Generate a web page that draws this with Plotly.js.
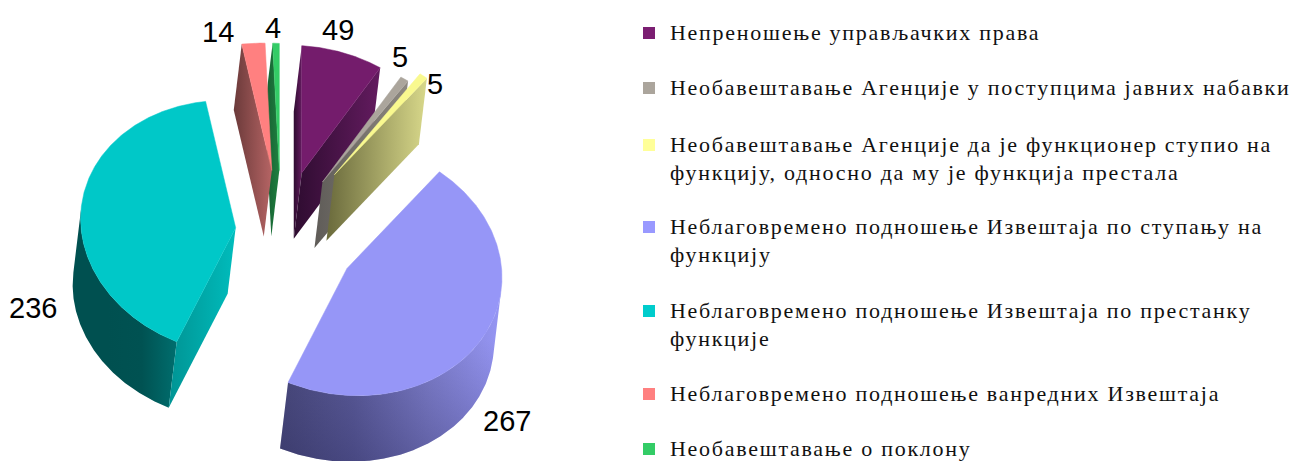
<!DOCTYPE html>
<html><head><meta charset="utf-8">
<script src="https://cdn.plot.ly/plotly-3.0.1.min.js"></script>
<style>
html,body{margin:0;padding:0;background:#fff}
#chart{width:1293px;height:461px}
.textpoint text{letter-spacing:1.73px}
</style></head><body><div id="chart"></div>
<script>
// Data, clockwise from 12 o'clock
const categories = [
  ["Непреношење управљачких права"],
  ["Необавештавање Агенције у поступцима јавних набавки"],
  ["Необавештавање Агенције да је функционер ступио на", "функцију, односно да му је функција престала"],
  ["Неблаговремено подношење Извештаја по ступању на", "функцију"],
  ["Неблаговремено подношење Извештаја по престанку", "функције"],
  ["Неблаговремено подношење ванредних Извештаја"],
  ["Необавештавање о поклону"]
];
const values = [49, 5, 5, 267, 236, 14, 4];

// Styles
const pulls = [0.51, 0.505, 0.6, 0.489, 0.294, 0.5, 0.5];
const topColors = ["#741C6C", "#ABA59C", "#F9F98F", "#9696F7", "#00C8C8", "#FF8080", "#33CC66"];
const swatchColors = ["#7B1E72", "#ABA59C", "#FFFF99", "#9999FF", "#00CCCC", "#FF8080", "#33CC66"];
const arcScales = [
  ["#3a0f3a", "#5f1a5c"], ["#66625c", "#8d8880"], ["#6f6f40", "#d8d888"],
  ["#474778", "#5a5a98", "#7c7cc8", "#9696F4"], ["#005050", "#005050", "#005252", "#006e6e"],
  ["#6b3a3a", "#b06060"], ["#165c30", "#27a050"]
];
const sideScales = [
  ["#2e0c30", "#631b5f"], ["#5f5c58", "#8d8880"], ["#6a6a3c", "#d8d88a"],
  ["#4a4a80", "#9090ea"], ["#009494", "#00bcbc"], ["#6b3a3a", "#b56464"], ["#165c30", "#1f8040"]
];
const labelX = [338, 400, 435, 507, 33, 218, 273];
const labelY = [30, 57, 84, 421, 308, 32, 28];
const legendY = [33, 88, 145, 227, 311, 394, 449];
const legendTextNudge = 1.5;
const legendLineGap = 28, swatchX = 649, legendTextX = 670;
const drawOrder = [6, 5, 0, 1, 2, 4, 3];

// Pie projection
const centerX = 281, centerY = 234, radiusX = 155, radiusY = 127, shear = 0.058;
const depthX = -8, depthY = 66;
const total = values.reduce((a, b) => a + b, 0);
const rad = d => d * Math.PI / 180;
const project = (ax, ay, deg) => {
  const c = Math.cos(rad(deg)), s = Math.sin(rad(deg));
  return [ax + radiusX * c, ay + radiusY * s + shear * radiusX * c];
};
const fillTrace = (pts, stops) => {
  const t = {
    x: pts.map(p => p[0]), y: pts.map(p => p[1]), mode: "lines", fill: "toself",
    line: {width: stops.length === 1 ? 0.5 : 0, color: stops[stops.length - 1]},
    showlegend: false, hoverinfo: "skip"
  };
  if (stops.length === 1) t.fillcolor = stops[0];
  else t.fillgradient = {type: "horizontal", colorscale: stops.map((c, k) => [k / (stops.length - 1), c])};
  return t;
};

let acc = -90;
const slices = values.map((v, i) => {
  const a0 = acc, a1 = acc + v / total * 360;
  acc = a1;
  const mid = project(0, 0, (a0 + a1) / 2);
  return {a0, a1, ax: centerX + pulls[i] * mid[0], ay: centerY + pulls[i] * mid[1]};
});

const traces = [];

drawOrder.forEach(i => {
  const s = slices[i];
  const arc = [];
  const n = Math.max(8, Math.ceil((s.a1 - s.a0) * 3));
  for (let k = 0; k <= n; k++) arc.push(project(s.ax, s.ay, s.a0 + (s.a1 - s.a0) * k / n));
  const low = p => [p[0] + depthX, p[1] + depthY];
  const apex = [s.ax, s.ay], apexLow = low(apex);

  // Curved rim: only the stretch of arc whose outward normal faces the extrusion
  const rim = [];
  for (let k = 0; k < n; k++) {
    const tx = arc[k + 1][0] - arc[k][0], ty = arc[k + 1][1] - arc[k][1];
    if (ty * depthX - tx * depthY > 0) {
      if (!rim.length) rim.push(arc[k]);
      rim.push(arc[k + 1]);
    }
  }
  if (rim.length) {
    const wall = rim.concat(rim.map(low).reverse(), [rim[0]]);
    traces.push(fillTrace(wall, arcScales[i]));
    if (i === 3) {                              // darker towards the rim of the largest slice
      const shade = fillTrace(wall, ["#000", "#000"]);
      shade.fillgradient = {type: "vertical", start: 340, stop: 460,
        colorscale: [[0, "rgba(60,60,120,0)"], [1, "rgba(40,40,90,0.35)"]]};
      traces.push(shade);
    }
  }
  // Cut faces
  [[arc[0], 1], [arc[n], -1]].forEach(([p, sign]) => {
    const dx = p[0] - apex[0], dy = p[1] - apex[1];
    const nx = sign * dy, ny = -sign * dx;
    if (nx * depthX + ny * depthY > 0)
      traces.push(fillTrace([apex, p, low(p), apexLow, apex], sideScales[i]));
  });
  traces.push(fillTrace([apex].concat(arc, [apex]), [topColors[i]]));
});

// Legend: swatches and text lines
categories.forEach((lines, i) => {
  traces.push({
    x: [swatchX], y: [legendY[i]], mode: "markers", name: lines.join(" "), showlegend: false,
    marker: {symbol: "square", size: 12, color: swatchColors[i]}, hoverinfo: "skip"
  });
  traces.push({
    x: lines.map(() => legendTextX), y: lines.map((_, k) => legendY[i] + legendTextNudge + k * legendLineGap),
    mode: "text", text: lines, textposition: "middle right", showlegend: false, hoverinfo: "skip",
    textfont: {family: "Liberation Serif", size: 22, color: "#111"}, cliponaxis: false
  });
});

const layout = {
  width: 1293, height: 461,
  margin: {l: 0, r: 0, t: 0, b: 0},
  paper_bgcolor: "#fff", plot_bgcolor: "#fff",
  xaxis: {range: [0, 1293], visible: false, fixedrange: true},
  yaxis: {range: [461, 0], visible: false, fixedrange: true},
  showlegend: false,
  annotations: values.map((v, i) => ({
    x: labelX[i], y: labelY[i], xref: "x", yref: "y", text: String(v), showarrow: false,
    font: {family: "Liberation Sans", size: 29, color: "#000"}
  }))
};
Plotly.newPlot("chart", traces, layout, {displayModeBar: false});
</script></body></html>
